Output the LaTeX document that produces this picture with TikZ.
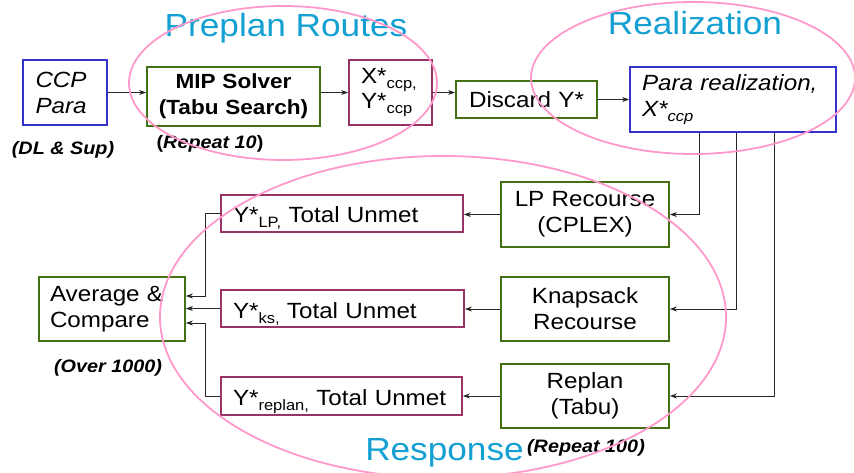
\documentclass[tikz,border=0pt]{standalone}
\usepackage{fontspec}
\setmainfont[FakeStretch=1.1]{Liberation Sans}
\usetikzlibrary{arrows.meta}

\definecolor{cblue}{RGB}{51,51,204}
\definecolor{cgreen}{RGB}{70,112,20}
\definecolor{cmaroon}{RGB}{153,51,102}
\definecolor{cpink}{RGB}{255,153,204}
\definecolor{ctitle}{RGB}{20,160,210}

\newcommand\bodyfont{\fontsize{22}{26}\selectfont}
\newcommand\mipfont{\fontsize{20.5}{26}\selectfont\bfseries}
\newcommand\titlefont{\fontsize{32}{36}\selectfont}
\newcommand\notefont{\fontsize{18}{20}\selectfont\bfseries\itshape}
\newcommand\lowsub[1]{\raisebox{-5pt}{\fontsize{15}{15}\selectfont #1}}

\tikzset{
  boxbase/.style={draw, line width=1.8pt, fill=white, inner sep=0pt, font=\bodyfont},
  bluebox/.style={boxbase, draw=cblue},
  greenbox/.style={boxbase, draw=cgreen},
  maroonbox/.style={boxbase, draw=cmaroon},
  oneline/.style={text height=19pt, text depth=0pt},
  title/.style={text=ctitle, font=\titlefont, inner sep=0pt, anchor=base},
  note/.style={font=\notefont, inner sep=0pt, anchor=base},
  arr/.style={draw=black!85, line width=0.9pt, -{Stealth[length=7pt,width=5pt]}},
  oval/.style={draw=cpink, line width=1.8pt}
}

\begin{document}
\begin{tikzpicture}[x=1pt,y=-1pt]
\useasboundingbox (0,0) rectangle (854,473);
\fill[white] (0,0) rectangle (854,473);

% planning stage
\node[bluebox, minimum width=84pt, minimum height=65pt, text width=59pt, align=left, font=\bodyfont\itshape]
  (ccp) at (65,92.5) {CCP\\Para};
\node[greenbox, minimum width=173pt, minimum height=59pt, text width=160pt, align=center, font=\mipfont]
  (mip) at (233.5,96.5) {MIP Solver\\(Tabu Search)};
\node[maroonbox, minimum width=83pt, minimum height=65pt, text width=59pt, align=left, font=\fontsize{22}{25}\selectfont]
  (xy) at (390.5,92.5) {X*\lowsub{ccp,}\\Y*\lowsub{ccp}};
\node[greenbox, minimum width=141pt, minimum height=37pt, text width=130pt, align=center, text height=17pt, text depth=0pt]
  (discard) at (526.5,99.5) {Discard Y*};
\node[bluebox, minimum width=206pt, minimum height=65pt, text width=182pt, align=left, font=\bodyfont\itshape]
  (para) at (733,99.5) {Para realization,\\X*\lowsub{ccp}};

% recourse models
\node[greenbox, minimum width=168pt, minimum height=65pt, text width=150pt, align=center]
  (lp) at (585,214.5) {LP Recourse\\(CPLEX)};
\node[greenbox, minimum width=168pt, minimum height=64pt, text width=150pt, align=center]
  (ks) at (585,309) {Knapsack\\Recourse};
\node[greenbox, minimum width=168pt, minimum height=64pt, text width=150pt, align=center]
  (replan) at (585,396) {Replan\\(Tabu)};

% results
\node[maroonbox, oneline, minimum width=242pt, minimum height=37pt, text width=218pt, align=left]
  (ylp) at (342,213.5) {Y*\lowsub{LP,} Total Unmet};
\node[maroonbox, oneline, minimum width=243pt, minimum height=37pt, text width=219pt, align=left]
  (yks) at (342.5,308.5) {Y*\lowsub{ks,} Total Unmet};
\node[maroonbox, oneline, minimum width=241pt, minimum height=38pt, text width=217pt, align=left]
  (yre) at (341.5,396) {Y*\lowsub{replan,} Total Unmet};
\node[greenbox, minimum width=146pt, minimum height=64pt, text width=124pt, align=left]
  (avg) at (112,309) {Average \&\\Compare};

% notes
\node[note] (n1) at (63,155) {(DL \& Sup)};
\node[note, font=\fontsize{18}{20}\selectfont\bfseries] (n2) at (210,149) {(\textit{Repeat 10})};
\node[note] (n3) at (108,372) {(Over 1000)};
\node[note] (n4) at (586,452) {(Repeat 100)};

% stage titles
\node[title] (t1) at (286,37) {Preplan Routes};
\node[title] (t2) at (695,35) {Realization};
\node[title] (t3) at (444.5,460) {Response};

% top flow
\draw[arr] (ccp.east) -- (ccp.east -| mip.west);
\draw[arr] (mip.east |- ccp.east) -- (xy.west);
\draw[arr] (xy.east) -- (xy.east -| discard.west);
\draw[arr] (discard.east) -- (discard.east -| para.west);

% realization feeds the three recourse models
\draw[arr] ([xshift=-34pt]para.south) |- (lp.east);
\draw[arr] ([xshift=3pt]para.south) |- (ks.east);
\draw[arr] ([xshift=41pt]para.south) |- (replan.east);

% recourse results
\draw[arr] (lp.west) -- (lp.west -| ylp.east);
\draw[arr] (ks.west) -- (ks.west -| yks.east);
\draw[arr] (replan.west) -- (replan.west -| yre.east);

% collected for comparison
\draw[arr] (ylp.west) -- ++(-15,0) |- ([yshift=13pt]avg.east);
\draw[arr] (yks.west) -- (yks.west -| avg.east);
\draw[arr] (yre.west) -- ++(-15,0) |- ([yshift=-14pt]avg.east);

% stage outlines
\draw[oval] (283,83) ellipse [x radius=154pt, y radius=77pt];
\draw[oval] (693,78) ellipse [x radius=162pt, y radius=76pt];
\draw[oval] (443,317) ellipse [x radius=283pt, y radius=161pt];
\end{tikzpicture}
\end{document}
